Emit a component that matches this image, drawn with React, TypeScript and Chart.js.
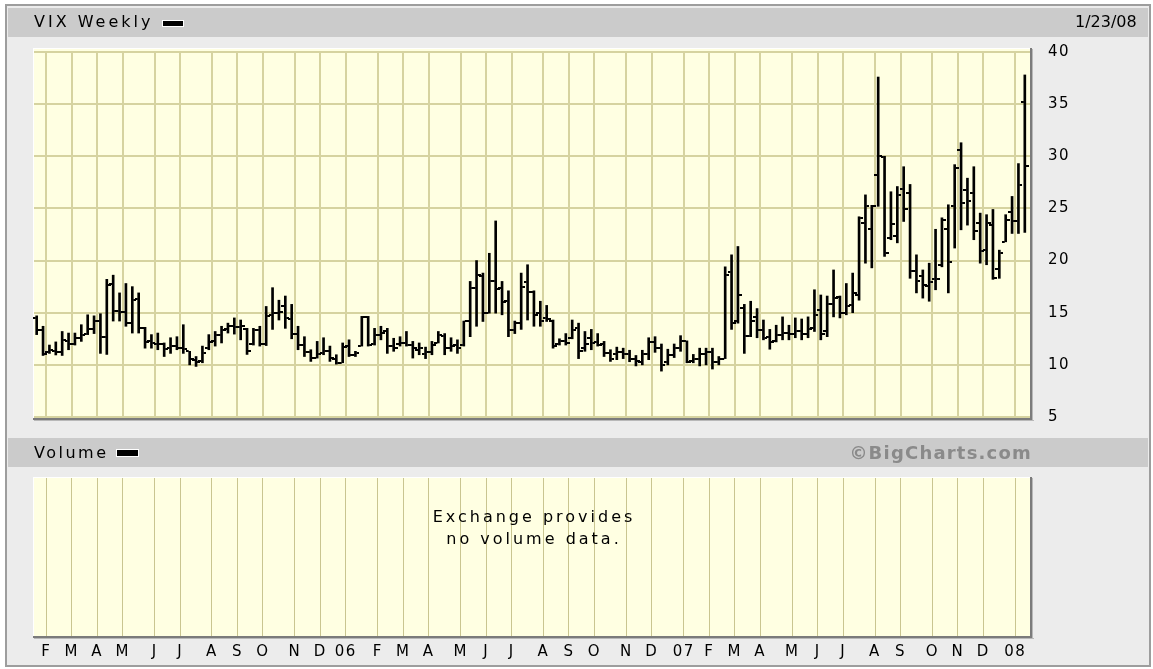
import React, { useEffect, useRef } from 'react';
import { Chart, registerables } from 'chart.js';

Chart.register(...registerables);

// Weekly VIX bars (index 0 = first week shown)
const opens: number[] = [
  14.5, 13.3, 11.2, 11.3, 11.2, 12.3, 12.0, 12.6, 13.0, 13.4,
  14.2, 12.7, 17.8, 15.2, 15.1, 14.0, 16.3, 13.5, 12.3, 12.0,
  12.0, 11.6, 11.8, 11.6, 11.3, 10.5, 10.4, 11.6, 12.3, 12.9,
  13.4, 13.7, 13.6, 13.4, 12.0, 13.3, 12.0, 14.8, 15.0, 15.6,
  14.4, 13.0, 11.9, 11.2, 10.7, 11.1, 11.3, 10.6, 10.2, 11.8,
  10.9, 11.8, 14.6, 12.0, 12.9, 13.2, 11.8, 12.0, 12.1, 11.9,
  11.4, 11.0, 11.2, 12.1, 12.8, 11.6, 11.9, 11.9, 14.2, 17.4,
  18.5, 15.0, 18.0, 17.4, 16.1, 13.3, 14.0, 17.9, 17.0, 15.0,
  14.5, 14.2, 12.0, 12.3, 12.6, 13.5, 11.6, 12.6, 12.2, 12.0,
  11.1, 11.0, 11.2, 11.0, 10.6, 10.3, 11.0, 12.2, 11.6, 10.3,
  10.9, 11.6, 12.3, 10.4, 10.6, 11.0, 11.2, 10.3, 10.6, 18.9,
  14.2, 15.5, 12.8, 14.6, 13.3, 12.7, 12.3, 12.9, 13.1, 13.0,
  13.2, 13.0, 13.5, 15.3, 13.2, 15.8, 16.5, 15.0, 15.7, 16.7,
  23.6, 23.0, 28.2, 29.9, 22.2, 22.4, 26.9, 26.5, 19.0, 18.5,
  17.6, 18.2, 19.6, 23.0, 25.2, 30.6, 26.8, 26.5, 23.6, 21.0,
  23.4, 19.2, 21.8, 24.7, 23.75, 35.2,
];
const highs: number[] = [
  14.7, 13.7, 11.9, 12.2, 13.2, 13.05, 13.05, 13.85, 14.8, 14.7,
  14.9, 18.2, 18.6, 16.9, 17.8, 17.5, 16.9, 13.6, 12.9, 13.05,
  12.1, 12.6, 12.7, 13.85, 11.3, 10.8, 11.8, 12.9, 13.2, 13.7,
  14.0, 14.5, 14.3, 13.5, 13.5, 13.7, 15.6, 17.4, 16.2, 16.6,
  15.8, 13.7, 12.7, 11.45, 12.25, 12.6, 11.8, 10.97, 12.1, 12.4,
  11.3, 14.65, 14.65, 13.5, 13.7, 13.5, 12.55, 12.7, 13.2, 12.25,
  12.1, 11.7, 12.25, 13.2, 13.0, 12.6, 12.4, 14.2, 18.0, 20.0,
  18.8, 20.7, 23.8, 18.0, 17.1, 14.2, 18.8, 19.6, 17.1, 16.1,
  15.7, 14.3, 12.5, 13.0, 14.3, 14.0, 13.2, 13.4, 13.0, 12.25,
  11.45, 11.7, 11.6, 11.4, 10.9, 11.4, 12.6, 12.7, 12.0, 11.5,
  12.0, 12.8, 12.3, 11.0, 11.6, 11.6, 11.6, 10.8, 19.4, 20.55,
  21.35, 15.8, 16.1, 15.4, 14.3, 13.4, 13.8, 14.6, 13.8, 14.5,
  14.4, 14.6, 17.2, 16.7, 16.6, 19.1, 16.6, 17.8, 18.8, 24.2,
  26.3, 25.3, 37.6, 30.0, 26.6, 27.1, 29.0, 27.3, 20.55, 19.1,
  19.75, 23.0, 24.1, 25.35, 29.2, 31.3, 27.9, 29.0, 24.55, 24.4,
  24.9, 21.0, 24.4, 26.15, 29.3, 37.8,
];
const lows: number[] = [
  12.9, 10.9, 11.1, 10.95, 10.9, 11.45, 11.9, 12.25, 12.9, 13.0,
  11.1, 11.0, 14.2, 14.2, 13.7, 13.05, 13.05, 11.6, 11.6, 11.45,
  10.8, 11.1, 11.45, 11.1, 10.0, 9.85, 10.2, 11.45, 11.8, 12.1,
  13.05, 12.95, 12.4, 11.0, 11.9, 11.8, 11.85, 13.4, 14.3, 13.5,
  12.5, 11.45, 10.8, 10.33, 10.65, 10.97, 10.33, 10.07, 10.2, 10.8,
  10.8, 11.8, 11.8, 11.9, 12.4, 11.1, 11.3, 11.8, 11.8, 10.65,
  10.97, 10.6, 10.97, 12.1, 10.97, 11.3, 11.1, 11.8, 12.7, 13.7,
  14.16, 14.96, 14.96, 14.8, 12.7, 13.0, 13.4, 14.3, 13.7, 13.7,
  14.16, 11.6, 11.9, 11.9, 12.5, 10.6, 11.3, 11.45, 11.8, 10.8,
  10.33, 10.5, 10.6, 10.3, 9.9, 10.0, 10.5, 11.2, 9.4, 10.0,
  10.7, 11.3, 10.2, 10.2, 9.9, 10.0, 9.6, 10.0, 10.6, 13.4,
  14.0, 11.1, 12.7, 12.6, 12.4, 11.5, 12.2, 12.4, 12.4, 12.6,
  12.4, 12.6, 13.2, 12.4, 12.7, 14.6, 14.5, 14.8, 15.0, 16.2,
  19.75, 19.3, 25.2, 20.4, 22.0, 21.7, 23.75, 18.3, 16.9, 16.4,
  16.1, 17.2, 19.4, 16.9, 21.2, 22.95, 23.4, 22.0, 19.75, 19.6,
  18.2, 18.3, 21.8, 22.6, 22.6, 22.7,
];
const closes: number[] = [
  13.3, 11.0, 11.4, 11.2, 12.4, 12.0, 12.6, 12.9, 13.4, 14.2,
  12.7, 17.7, 15.2, 15.1, 14.0, 16.2, 13.5, 12.2, 12.1, 12.0,
  11.5, 11.8, 11.6, 11.5, 10.6, 10.3, 11.1, 12.2, 12.9, 13.3,
  13.7, 13.6, 13.7, 11.3, 13.3, 12.0, 14.7, 15.0, 15.1, 14.5,
  13.0, 11.9, 11.2, 10.7, 11.0, 11.3, 10.7, 10.2, 11.7, 10.9,
  11.1, 14.6, 11.9, 12.9, 13.1, 11.8, 11.6, 12.1, 11.9, 11.6,
  11.6, 11.2, 11.9, 12.9, 11.6, 11.8, 11.6, 14.2, 17.4, 18.6,
  15.0, 18.0, 17.3, 16.0, 13.3, 14.0, 17.5, 17.0, 14.8, 14.2,
  14.4, 11.8, 12.3, 12.1, 13.3, 11.3, 12.0, 12.1, 11.9, 11.1,
  10.6, 11.2, 11.0, 10.6, 10.4, 11.0, 12.2, 11.6, 10.0, 10.9,
  11.6, 12.3, 10.3, 10.6, 11.0, 11.2, 10.3, 10.6, 18.6, 14.0,
  16.7, 12.8, 14.2, 13.3, 12.6, 12.2, 12.9, 13.1, 13.0, 13.2,
  13.0, 13.4, 14.8, 13.0, 15.8, 16.4, 15.0, 15.6, 16.9, 24.1,
  25.2, 25.2, 30.0, 20.7, 23.5, 26.3, 24.9, 19.0, 18.0, 17.7,
  17.9, 18.2, 23.9, 19.9, 28.9, 25.5, 25.7, 22.8, 20.9, 23.6,
  18.3, 20.7, 23.9, 23.75, 27.2, 29.1,
];

// Month boundaries (in week-index units) and their labels
const monthTickPositions: number[] = [
  1.5, 5.5, 9.5, 13.5, 18.5, 22.5, 27.5, 31.5, 35.5, 40.5, 44.5, 48.5,
  53.5, 57.5, 61.5, 66.5, 70.5, 74.5, 79.5, 83.5, 87.5, 92.5, 96.5, 101.5,
  105.5, 109.5, 113.5, 118.5, 122.5, 126.5, 131.5, 135.5, 140.5, 144.5, 148.5, 153.5,
];
const monthLabels: string[] = [
  'F', 'M', 'A', 'M', 'J', 'J', 'A', 'S', 'O', 'N', 'D', '06',
  'F', 'M', 'A', 'M', 'J', 'J', 'A', 'S', 'O', 'N', 'D', '07',
  'F', 'M', 'A', 'M', 'J', 'J', 'A', 'S', 'O', 'N', 'D', '08',
];
const priceTickValues: number[] = [5, 10, 15, 20, 25, 30, 35, 40];

const X_MIN = -0.42;
const X_MAX = 155.97;
const PLOT_BG = '#ffffe2';
const PRICE_GRID = '#d6d3a0';
const VOL_GRID = '#c9c590';
const FONT = '"DejaVu Sans", sans-serif';

const panelPlugin = {
  id: 'panel',
  beforeDraw(chart: any, _args: any, opts: any) {
    const { ctx, chartArea: a } = chart;
    const t = a.top - (opts.extendTop || 0);
    const b = a.bottom + (opts.extendBottom || 0);
    ctx.save();
    ctx.fillStyle = PLOT_BG;
    ctx.fillRect(a.left, t, a.right - a.left, b - t);
    ctx.fillStyle = '#ffffff';
    ctx.fillRect(a.left - 1, t - 1, a.right - a.left + 1, 1);
    ctx.fillRect(a.left - 1, t - 1, 1, b - t + 1);
    ctx.restore();
    ctx.letterSpacing = opts.letterSpacing || '0px';
  },
  afterDraw(chart: any, _args: any, opts: any) {
    const { ctx, chartArea: a } = chart;
    const t = a.top - (opts.extendTop || 0);
    const b = a.bottom + (opts.extendBottom || 0);
    ctx.save();
    ctx.fillStyle = '#7b7b7b';
    ctx.fillRect(a.left - 1, b, a.right - a.left + 3, 2);
    ctx.fillRect(a.right - 1, t - 1, 2, b - t + 3);
    ctx.fillStyle = '#b8b8b8';
    ctx.fillRect(a.left, b + 2, a.right - a.left + 3, 1);
    ctx.fillRect(a.right + 1, t, 1, b - t + 3);
    ctx.restore();
    ctx.letterSpacing = '0px';
  },
};

function makeTick(side: 'left' | 'right'): HTMLCanvasElement {
  const c = document.createElement('canvas');
  c.width = 8;
  c.height = 2;
  const g = c.getContext('2d')!;
  g.fillStyle = '#000';
  if (side === 'left') g.fillRect(0, 0, 3, 2);
  else g.fillRect(5, 0, 3, 2);
  return c;
}

function monthXScale(showLabels: boolean, gridColor: string, gridWidth: number, height: number) {
  return {
    type: 'linear',
    min: X_MIN,
    max: X_MAX,
    offset: false,
    afterBuildTicks: (s: any) => {
      s.ticks = monthTickPositions.map((v) => ({ value: v }));
    },
    afterFit: (s: any) => {
      s.height = height;
      s.paddingLeft = 0;
      s.paddingRight = 0;
    },
    ticks: {
      display: showLabels,
      autoSkip: false,
      maxRotation: 0,
      minRotation: 0,
      padding: 7,
      color: '#000',
      font: { family: FONT, size: 15 },
      callback: (_v: any, i: number) => monthLabels[i],
    },
    grid: { color: gridColor, lineWidth: gridWidth, drawTicks: false, offset: false },
    border: { display: false },
  };
}

export default function App() {
  const priceRef = useRef<HTMLCanvasElement>(null);
  const volRef = useRef<HTMLCanvasElement>(null);

  useEffect(() => {
    const openTick = makeTick('left');
    const closeTick = makeTick('right');

    const price = new Chart(priceRef.current!, {
      type: 'bar',
      data: {
        datasets: [
          {
            type: 'bar',
            data: highs.map((h, i) => ({ x: i, y: [lows[i], h] })) as any,
            backgroundColor: '#000',
            borderWidth: 0,
            barThickness: 2,
            clip: 4,
          } as any,
          {
            type: 'scatter',
            data: opens.map((o, i) => ({ x: i, y: o })),
            pointStyle: openTick,
            pointRadius: 3,
            pointHoverRadius: 3,
            showLine: false,
            clip: 4,
          } as any,
          {
            type: 'scatter',
            data: closes.map((c, i) => ({ x: i, y: c })),
            pointStyle: closeTick,
            pointRadius: 3,
            pointHoverRadius: 3,
            showLine: false,
            clip: 4,
          } as any,
        ],
      },
      options: {
        animation: false,
        responsive: false,
        events: [],
        layout: { padding: { left: 34, top: 52, right: 0, bottom: 13 } },
        plugins: {
          legend: { display: false },
          tooltip: { enabled: false },
          panel: { extendTop: 3, extendBottom: 1, letterSpacing: '1.5px' },
        } as any,
        scales: {
          x: monthXScale(false, PRICE_GRID, 2, 0) as any,
          y: {
            type: 'linear',
            position: 'right',
            min: 5,
            max: 40,
            afterBuildTicks: (s: any) => {
              s.ticks = priceTickValues.map((v) => ({ value: v }));
            },
            afterFit: (s: any) => {
              s.width = 122;
              s.paddingTop = 0;
              s.paddingBottom = 0;
            },
            ticks: {
              padding: 17,
              crossAlign: 'near',
              color: '#000',
              font: { family: FONT, size: 15 },
            },
            grid: { color: PRICE_GRID, lineWidth: 2, drawTicks: false },
            border: { display: false },
          } as any,
        },
      },
      plugins: [panelPlugin as any],
    });

    const vol = new Chart(volRef.current!, {
      type: 'scatter',
      data: { datasets: [{ data: [], pointRadius: 0 }] },
      options: {
        animation: false,
        responsive: false,
        events: [],
        layout: { padding: { left: 34, top: 38, right: 122, bottom: 0 } },
        plugins: {
          legend: { display: false },
          tooltip: { enabled: false },
          panel: { extendTop: 0, extendBottom: 0, letterSpacing: '1.5px' },
        } as any,
        scales: {
          x: monthXScale(true, VOL_GRID, 1, 33) as any,
          y: { display: false, min: 0, max: 1 },
        },
      },
      plugins: [panelPlugin as any],
    });

    return () => {
      price.destroy();
      vol.destroy();
    };
  }, []);

  const textBase: React.CSSProperties = {
    position: 'absolute',
    fontFamily: FONT,
    fontSize: 16,
    lineHeight: '20px',
    color: '#000',
    whiteSpace: 'nowrap',
    letterSpacing: '2.5px',
  };

  return (
    <div style={{ position: 'absolute', left: 0, top: 0, width: 1153, height: 669, background: '#ffffff', overflow: 'hidden' }}>
      <div style={{ position: 'absolute', left: 5, top: 4, width: 1146, height: 663, boxSizing: 'border-box', border: '2px solid #9d9d9d', background: '#ececec' }} />
      <div style={{ position: 'absolute', left: 8, top: 8, width: 1140, height: 29, background: '#cbcbcb' }} />
      <div style={{ position: 'absolute', left: 8, top: 438, width: 1140, height: 29, background: '#cbcbcb' }} />

      <canvas ref={priceRef} width={1153} height={430} style={{ position: 'absolute', left: 0, top: 0, width: 1153, height: 430 }} />
      <canvas ref={volRef} width={1153} height={229} style={{ position: 'absolute', left: 0, top: 440, width: 1153, height: 229 }} />

      <div style={{ ...textBase, left: 34, top: 12, letterSpacing: '3px' }}>VIX Weekly</div>
      <div style={{ position: 'absolute', left: 162, top: 20, width: 22, height: 7, background: '#000', border: '1px solid #fff', boxSizing: 'border-box' }} />
      <div style={{ ...textBase, left: 1075, top: 12, letterSpacing: '0px' }}>1/23/08</div>

      <div style={{ ...textBase, left: 34, top: 443 }}>Volume</div>
      <div style={{ position: 'absolute', left: 116, top: 449, width: 23, height: 8, background: '#000', border: '1px solid #fff', boxSizing: 'border-box' }} />
      <div style={{ position: 'absolute', right: 1153 - 1032, top: 443, fontFamily: FONT, fontWeight: 'bold', fontSize: 18, lineHeight: '20px', color: '#8a8a8a', letterSpacing: '1.2px', whiteSpace: 'nowrap' }}>©BigCharts.com</div>

      <div style={{ ...textBase, left: 34, top: 506, width: 1000, textAlign: 'center', lineHeight: '22px', letterSpacing: '3px' }}>
        Exchange provides
        <br />
        no volume data.
      </div>
    </div>
  );
}
